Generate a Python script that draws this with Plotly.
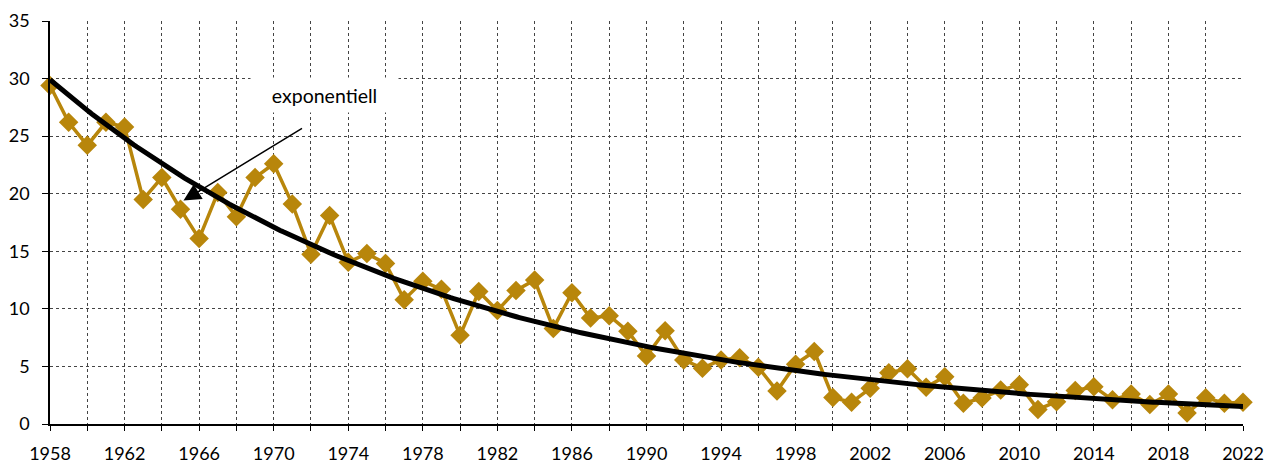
import numpy as np
import plotly.graph_objects as go

years = list(range(1958, 2023))
values = [29.4, 26.2, 24.2, 26.2, 25.8, 19.5, 21.4, 18.65, 16.1, 20.1,
          18.0, 21.4, 22.6, 19.1, 14.75, 18.1, 14.05, 14.8, 13.95, 10.8,
          12.4, 11.7, 7.7, 11.5, 9.85, 11.6, 12.5, 8.3, 11.4, 9.2,
          9.4, 8.05, 5.9, 8.1, 5.56, 4.85, 5.56, 5.76, 4.92, 2.87,
          5.2, 6.3, 2.3, 1.88, 3.1, 4.45, 4.8, 3.2, 4.1, 1.8,
          2.25, 2.95, 3.4, 1.27, 1.94, 2.9, 3.24, 2.1, 2.6, 1.7,
          2.6, 0.95, 2.29, 1.8, 1.88]

tick_years = list(range(1958, 2023, 2))
tick_text = [str(y) if (y - 1958) % 4 == 0 else "" for y in tick_years]
y_ticks = [0, 5, 10, 15, 20, 25, 30, 35]
trend_label = "exponentiell"

# Exponential trendline (least squares on ln y, like a spreadsheet trendline)
x_arr = np.array(years, dtype=float)
b, a = np.polyfit(x_arr - 1958, np.log(np.array(values)), 1)
x_fine = np.linspace(1958, 2022, 400)
trend = np.exp(a + b * (x_fine - 1958))

GOLD = "#B8860B"
FONT = "Lato, 'Open Sans', sans-serif"

fig = go.Figure()
fig.add_trace(go.Scatter(
    x=years, y=values, mode="lines+markers",
    line=dict(color=GOLD, width=3.5),
    marker=dict(symbol="diamond", size=15, color=GOLD),
    showlegend=False, hoverinfo="x+y", cliponaxis=False))
fig.add_trace(go.Scatter(
    x=x_fine, y=trend, mode="lines",
    line=dict(color="black", width=5),
    showlegend=False, hoverinfo="skip"))

fig.add_annotation(
    x=1965.16, y=19.4, xref="x", yref="y",
    ax=1971.6, ay=25.75, axref="x", ayref="y",
    text="", showarrow=True, arrowhead=2, arrowsize=2.3,
    arrowwidth=1.5, arrowcolor="black")
fig.add_annotation(
    x=1972.75, y=28.6, xref="x", yref="y",
    text=trend_label, showarrow=False,
    font=dict(family=FONT, size=19.5, color="black"),
    bgcolor="white", width=145, height=32, xanchor="center", yanchor="middle")

fig.update_layout(
    width=1268, height=455,
    margin=dict(l=41.5, r=33, t=13, b=39, autoexpand=False),
    paper_bgcolor="white", plot_bgcolor="white",
    font=dict(family=FONT, size=18, color="black"),
    xaxis=dict(
        range=[1958, 2022], tickmode="array",
        tickvals=tick_years, ticktext=tick_text,
        ticks="outside", ticklen=5, tickcolor="black",
        ticklabelstandoff=8,
        showgrid=True, gridcolor="#444", griddash="3px,3px", gridwidth=1,
        showline=True, linecolor="black", linewidth=1.5,
        zeroline=False, automargin=False, tickfont=dict(size=18)),
    yaxis=dict(
        range=[0, 35], tickmode="array", tickvals=y_ticks,
        ticks="outside", ticklen=6, tickcolor="black",
        ticklabelstandoff=9,
        showgrid=True, gridcolor="#444", griddash="3px,3px", gridwidth=1,
        showline=True, linecolor="black", linewidth=1.5,
        zeroline=False, automargin=False, tickfont=dict(size=18)),
)

fig.write_html("out.html")
